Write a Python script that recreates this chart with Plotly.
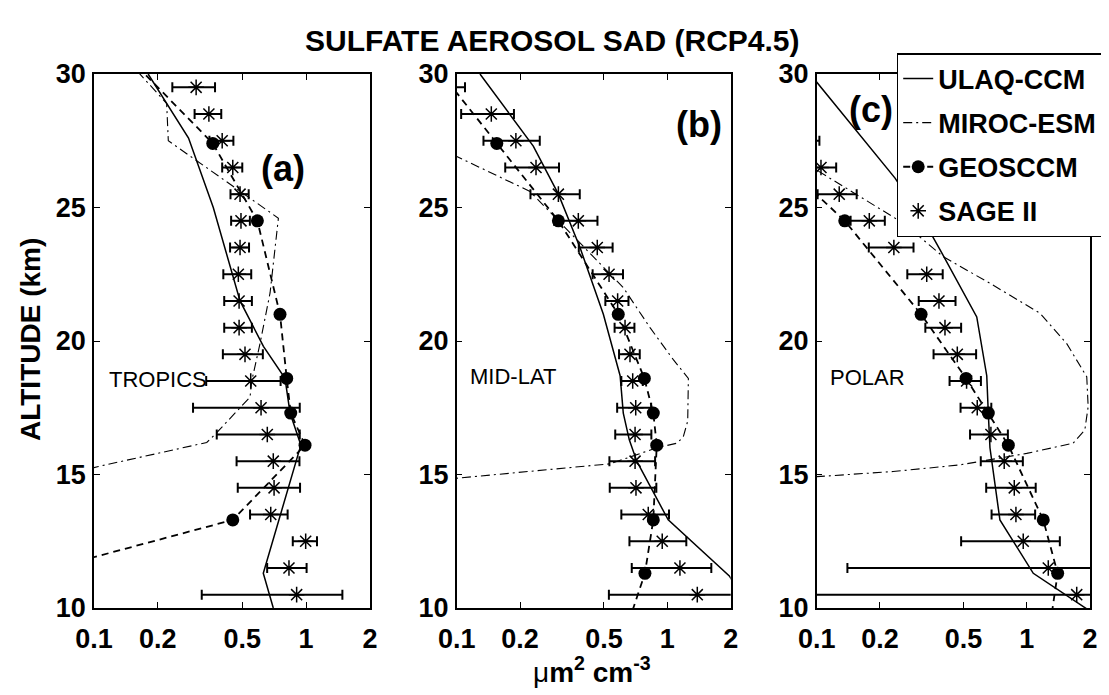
import plotly.graph_objects as go

# ---------------- data ----------------
model_levels = [32.2, 27.4, 24.5, 21.0, 18.6, 17.3, 16.1, 13.3, 11.3, 9.7]

# ULAQ-CCM
ulaq_alt_a = [30.0, 27.6, 25.0, 21.5, 19.8, 18.6, 17.3, 16.1, 11.3, 10.0]
ulaq_a = [0.180, 0.279, 0.365, 0.488, 0.629, 0.795, 0.84, 0.944, 0.628, 0.70]
ulaq_alt_b = [30.0, 27.3, 25.5, 23.5, 21.0, 18.7, 17.3, 16.3, 15.5, 13.3, 11.2, 9.7]
ulaq_b = [0.129, 0.231, 0.304, 0.385, 0.497, 0.597, 0.618, 0.660, 0.716, 1.01, 1.97, 2.6]
ulaq_alt_c = [30.0, 26.1, 24.2, 23.3, 20.9, 18.7, 17.3, 16.0, 13.3, 11.3, 9.7]
ulaq_c = [0.093, 0.236, 0.340, 0.394, 0.578, 0.645, 0.656, 0.668, 0.745, 1.074, 2.17]

# MIROC-ESM
miroc_alt_a = [32.2, 28.9, 27.5, 24.6, 21.8, 19.9, 18.5, 17.9, 16.5, 16.2, 15.3, 13.3]
miroc_a = [0.092, 0.220, 0.224, 0.740, 0.676, 0.606, 0.554, 0.544, 0.372, 0.340, 0.105, 0.01]
miroc_alt_b = [28.5, 26.9, 25.6, 22.0, 20.5, 19.3, 18.6, 17.0, 16.4, 16.17, 16.0, 15.4, 14.86, 14.0]
miroc_b = [0.038, 0.1, 0.223, 0.618, 0.828, 1.068, 1.259, 1.25, 1.19, 1.109, 0.891, 0.535, 0.1, 0.02]
miroc_alt_c = [27.5, 26.4, 24.4, 23.16, 22.16, 21.04, 19.9, 18.66, 17.54, 16.67, 16.17, 15.79,
               15.36, 15.11, 14.92, 14.0]
miroc_c = [0.06, 0.1, 0.26, 0.40, 0.668, 1.156, 1.55, 1.93, 1.96, 1.89, 1.66, 0.999,
           0.481, 0.231, 0.1, 0.01]

# GEOSCCM (on model_levels)
geos_a = [0.093, 0.363, 0.589, 0.753, 0.81, 0.846, 0.988, 0.451, 0.052, 0.04]
geos_b = [0.051, 0.155, 0.304, 0.585, 0.778, 0.858, 0.891, 0.858, 0.783, 0.67]
geos_c = [0.02, 0.055, 0.136, 0.314, 0.514, 0.656, 0.817, 1.198, 1.403, 1.31]

# SAGE II
sage_alt_ab = [29.5, 28.5, 27.5, 26.5, 25.5, 24.5, 23.5, 22.5, 21.5, 20.5,
               19.5, 18.5, 17.5, 16.5, 15.5, 14.5, 13.5, 12.5, 11.5, 10.5]
sage_a = [0.303, 0.348, 0.402, 0.451, 0.488, 0.493, 0.488, 0.479, 0.483, 0.483,
          0.515, 0.548, 0.613, 0.656, 0.700, 0.706, 0.681, 0.995, 0.830, 0.902]
sage_err_a = [0.069, 0.050, 0.052, 0.049, 0.048, 0.050, 0.050, 0.072, 0.072, 0.072,
              0.110, 0.210, 0.320, 0.277, 0.230, 0.230, 0.137, 0.130, 0.175, 0.580]
sage_b = [0.090, 0.146, 0.191, 0.238, 0.304, 0.378, 0.465, 0.529, 0.581, 0.630,
          0.665, 0.685, 0.708, 0.703, 0.703, 0.710, 0.812, 0.946, 1.148, 1.388]
sage_err_b = [0.0195, 0.041, 0.057, 0.068, 0.080, 0.088, 0.085, 0.087, 0.073, 0.068,
              0.075, 0.080, 0.130, 0.137, 0.172, 0.177, 0.207, 0.285, 0.470, 0.860]
sage_alt_c = [27.5, 26.5, 25.5, 24.5, 23.5, 22.5, 21.5, 20.5, 19.5, 18.5,
              17.5, 16.5, 15.5, 14.5, 13.5, 12.5, 11.5, 10.5]
sage_c = [0.080, 0.1048, 0.128, 0.178, 0.233, 0.334, 0.382, 0.408, 0.467, 0.517,
          0.581, 0.675, 0.781, 0.872, 0.888, 0.962, 1.266, 1.729]
sage_err_c = [0.023, 0.019, 0.027, 0.033, 0.056, 0.064, 0.076, 0.079, 0.107, 0.088,
              0.097, 0.138, 0.177, 0.231, 0.208, 0.475, 1.126, 1.70]

x_ticks = [0.1, 0.2, 0.5, 1, 2]
x_ticktext = ["0.1", "0.2", "0.5", "1", "2"]
y_ticks = [10, 15, 20, 25, 30]
panel_letters = ["(a)", "(b)", "(c)"]
region_names = ["TROPICS", "MID-LAT", "POLAR"]
series_names = ["ULAQ-CCM", "MIROC-ESM", "GEOSCCM", "SAGE II"]

# ---------------- figure ----------------
FONT = "Liberation Sans, Arial, Helvetica, sans-serif"
# the page body has an 8px default margin, so the figure is offset by 8px
W, H = 1101, 687
ml, mr, mt, mb = 86, 19, 66, 87
pw = W - ml - mr
ph = H - mt - mb
domains = [[0.0, 276 / pw], [(456.7 - 94) / pw, (730.7 - 94) / pw], [(816.7 - 94) / pw, 1.0]]

panels = [
    (ulaq_alt_a, ulaq_a, miroc_alt_a, miroc_a, geos_a, sage_alt_ab, sage_a, sage_err_a),
    (ulaq_alt_b, ulaq_b, miroc_alt_b, miroc_b, geos_b, sage_alt_ab, sage_b, sage_err_b),
    (ulaq_alt_c, ulaq_c, miroc_alt_c, miroc_c, geos_c, sage_alt_c, sage_c, sage_err_c),
]

fig = go.Figure()
for i, (ua, uv, ma, mv, gv, sa, sv, se) in enumerate(panels):
    xr = "x" if i == 0 else f"x{i+1}"
    yr = "y" if i == 0 else f"y{i+1}"
    show = (i == 2)
    fig.add_trace(go.Scatter(x=uv, y=ua, mode="lines", name=series_names[0],
                             legendgroup="g1", showlegend=show,
                             line=dict(color="black", width=1.5),
                             xaxis=xr, yaxis=yr))
    fig.add_trace(go.Scatter(x=mv, y=ma, mode="lines", name=series_names[1],
                             legendgroup="g2", showlegend=show,
                             line=dict(color="black", width=1.1, dash="9px,4px,2px,4px"),
                             xaxis=xr, yaxis=yr))
    fig.add_trace(go.Scatter(x=gv, y=model_levels, mode="lines+markers", name=series_names[2],
                             legendgroup="g3", showlegend=show,
                             line=dict(color="black", width=1.8, dash="7px,5px"),
                             marker=dict(symbol="circle", size=13, color="black"),
                             xaxis=xr, yaxis=yr))
    fig.add_trace(go.Scatter(x=sv, y=sa, mode="markers", name=series_names[3],
                             legendgroup="g4", showlegend=show,
                             marker=dict(symbol="asterisk-open", size=13, color="black",
                                         line=dict(color="black", width=1.5)),
                             error_x=dict(type="data", array=se, visible=True,
                                          color="black", thickness=2, width=5),
                             xaxis=xr, yaxis=yr))

axis_common = dict(showline=True, linecolor="black", linewidth=1.5, mirror="ticks",
                   ticks="inside", ticklen=6, tickwidth=1.2, tickcolor="black",
                   showgrid=False, zeroline=False,
                   tickfont=dict(family=FONT, size=27, color="black", weight="bold"))

layout = dict(
    width=W, height=H,
    margin=dict(l=ml, r=mr, t=mt, b=mb, autoexpand=False),
    paper_bgcolor="white", plot_bgcolor="white",
    font=dict(family=FONT, color="black"),
    showlegend=True,
    legend=dict(x=(896.7 - 94) / pw, y=(608 - 53) / ph,
                xanchor="left", yanchor="top",
                bgcolor="white", bordercolor="black", borderwidth=1.5,
                traceorder="grouped", tracegroupgap=6,
                font=dict(family=FONT, size=27, color="black", weight="bold")),
)
for i in range(3):
    xk = "xaxis" if i == 0 else f"xaxis{i+1}"
    yk = "yaxis" if i == 0 else f"yaxis{i+1}"
    ax_id = "y" if i == 0 else f"y{i+1}"
    xid = "x" if i == 0 else f"x{i+1}"
    layout[xk] = dict(axis_common, type="log", range=[-1, 0.30103], domain=domains[i],
                      anchor=ax_id, tickvals=x_ticks, ticktext=x_ticktext,
                      ticklabelstandoff=6)
    layout[yk] = dict(axis_common, range=[10, 30], domain=[0, 1], anchor=xid,
                      tickvals=y_ticks, ticklabelstandoff=1)
fig.update_layout(**layout)

annotations = [
    dict(text="<b>SULFATE AEROSOL SAD (RCP4.5)</b>", xref="paper", yref="paper",
         x=(552 - 94) / pw, y=(608 - 40) / ph, xanchor="center", yanchor="middle",
         showarrow=False, font=dict(family=FONT, size=30, color="black")),
    dict(text="<b>ALTITUDE (km)</b>", xref="paper", yref="paper", textangle=-90,
         x=(30 - 94) / pw, y=(608 - 340) / ph, xanchor="center", yanchor="middle",
         showarrow=False, font=dict(family=FONT, size=28, color="black")),
    dict(text="μ<b>m<sup>2</sup> cm<sup>-3</sup></b>", xref="paper", yref="paper",
         x=(592 - 94) / pw, y=(608 - 670) / ph, xanchor="center", yanchor="middle",
         showarrow=False, font=dict(family=FONT, size=28, color="black")),
]
letter_pos = [(0.683, 0.823), (0.884, 0.906), (0.199, 0.9326)]
region_pos = [(0.046, 0.4288), (0.041, 0.4326), (0.0425, 0.4317)]
for i in range(3):
    xd = "x domain" if i == 0 else f"x{i+1} domain"
    yd = "y domain" if i == 0 else f"y{i+1} domain"
    annotations.append(dict(text=f"<b>{panel_letters[i]}</b>", xref=xd, yref=yd,
                            x=letter_pos[i][0], y=letter_pos[i][1],
                            xanchor="center", yanchor="middle", showarrow=False,
                            font=dict(family=FONT, size=36, color="black")))
    annotations.append(dict(text=region_names[i], xref=xd, yref=yd,
                            x=region_pos[i][0], y=region_pos[i][1],
                            xanchor="left", yanchor="middle", showarrow=False,
                            font=dict(family=FONT, size=22, color="black")))
fig.update_layout(annotations=annotations)

fig.write_html("out.html")
